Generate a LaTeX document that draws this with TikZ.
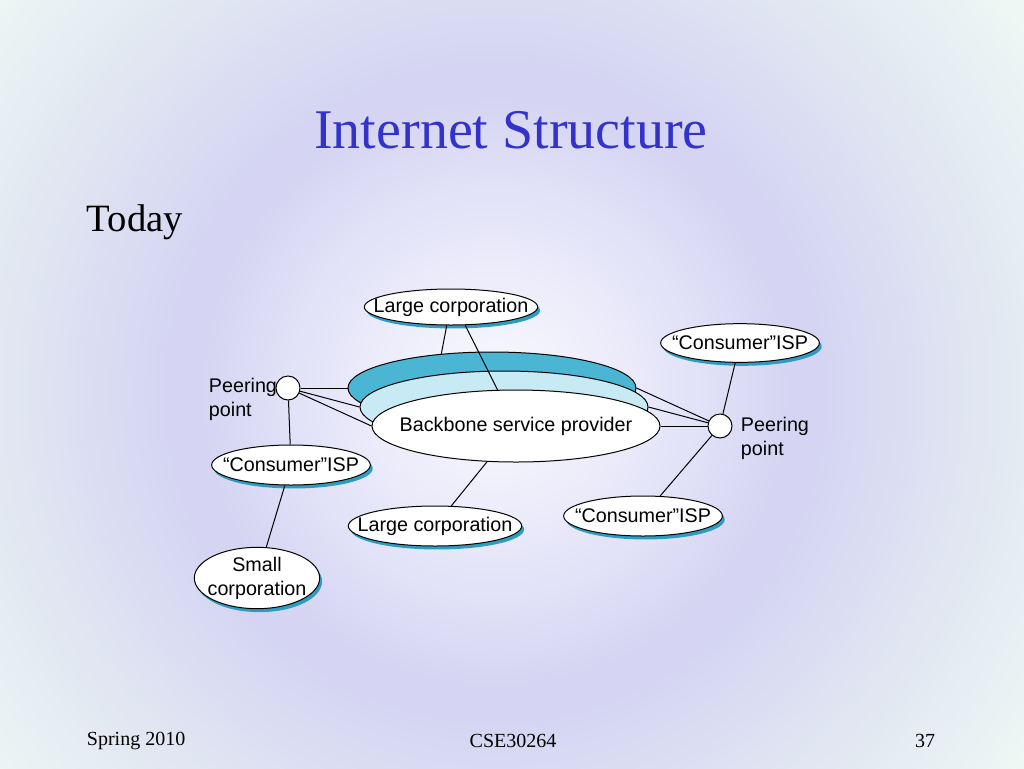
\documentclass[tikz,border=0pt]{standalone}
\usepackage{fontspec}
\setmainfont{Liberation Serif}
\newfontfamily\arialfont{Liberation Sans}
\usetikzlibrary{shapes.geometric,shadows}

\definecolor{titleblue}{HTML}{3333CC}
\definecolor{bbdark}{HTML}{4BB6D4}
\definecolor{bblight}{HTML}{C8EAF4}
\definecolor{shadowteal}{HTML}{2E9CC0}
\definecolor{bgcenter}{HTML}{F8F8FE}
\definecolor{bginner}{HTML}{F1F1FC}
\definecolor{bgmid}{HTML}{E2E2F8}
\definecolor{bglav}{HTML}{D5D5F3}
\definecolor{bgedge}{HTML}{DDE1F2}
\definecolor{bgcorner}{HTML}{EDF7F3}
\pgfdeclareradialshading{slidebg}{\pgfpoint{0bp}{0bp}}{color(0bp)=(bgcenter); color(60bp)=(bginner); color(150bp)=(bgmid); color(220bp)=(bglav); color(245bp)=(bglav); color(325bp)=(bgedge); color(480bp)=(bgcorner); color(600bp)=(bgcorner)}

\begin{document}
\begin{tikzpicture}[x=0.75pt,y=-0.75pt,line width=0.75pt]
  \tikzset{lbl/.style={font=\arialfont\fontsize{14.8}{18}\selectfont,align=center},
    corp/.style={lbl,ellipse,draw,fill=white,inner xsep=-20pt,inner ysep=-4pt,
      drop shadow={shadow xshift=1.8pt,shadow yshift=-2.6pt,fill=shadowteal,opacity=1}},
    bbone/.style={lbl,ellipse,draw,inner xsep=-20pt,inner ysep=-4pt,minimum width=216pt,minimum height=54pt},
    peer/.style={circle,draw,fill=white,minimum size=18pt,inner sep=0pt},
    side/.style={lbl,align=left,anchor=west}}
  \useasboundingbox (0,0) rectangle (1024,768);
  \begin{scope}
    \clip (0,0) rectangle (1024,768);
    \node[inner sep=0pt] (bg) at (495,392) {\pgfuseshading{slidebg}};
  \end{scope}

  \node[titleblue,font=\fontsize{42}{48}\selectfont] (title) at (511,130) {Internet Structure};
  \node[anchor=west,font=\fontsize{29}{34}\selectfont] (today) at (82,222) {Today};
  \node[anchor=west,font=\fontsize{15}{18}\selectfont] (season) at (82,741) {Spring 2010};
  \node[font=\fontsize{15}{18}\selectfont] (course) at (513,741) {CSE30264};
  \node[anchor=east,font=\fontsize{15}{18}\selectfont] (page) at (940,741) {37};

  \node[bbone,fill=bbdark] (back) at (492,388) {};
  \node[bbone,fill=bblight] (mid) at (504,407) {};
  \node[bbone,fill=white] (front) at (516,426) {Backbone service provider};

  \node[peer] (peerL) at (288,388) {};
  \node[peer] (peerR) at (720,426) {};
  \node[side] (peerLtxt) at (204,399) {Peering\\point};
  \node[side] (peerRtxt) at (736,438) {Peering\\point};

  \node[corp,minimum width=130pt,minimum height=27pt] (lctop) at (451,307) {Large corporation};
  \node[corp,minimum width=119pt,minimum height=29pt] (ispR) at (740,343) {“Consumer”ISP};
  \node[corp,minimum width=119pt,minimum height=30pt] (ispL) at (291,465) {“Consumer”ISP};
  \node[corp,minimum width=119pt,minimum height=30pt] (ispB) at (643,516) {“Consumer”ISP};
  \node[corp,minimum width=130pt,minimum height=30pt] (lcbot) at (435,526) {Large corporation};
  \node[corp,minimum width=94pt,minimum height=46pt] (small) at (257,578) {Small\\corporation};

  \draw (lctop.257) -- (back.146);
  \draw (lctop.308) -- (front.117);
  \draw (peerL) -- (back.west);
  \draw (peerL) -- (mid.west);
  \draw (peerL) -- (front.west);
  \draw (peerR) -- (back.east);
  \draw (peerR) -- (mid.east);
  \draw (peerR) -- (front.east);
  \draw (peerR) -- (ispR);
  \draw (peerR) -- (ispB);
  \draw (peerL) -- (ispL);
  \draw (ispL) -- (small);
  \draw (front) -- (lcbot);
\end{tikzpicture}
\end{document}
